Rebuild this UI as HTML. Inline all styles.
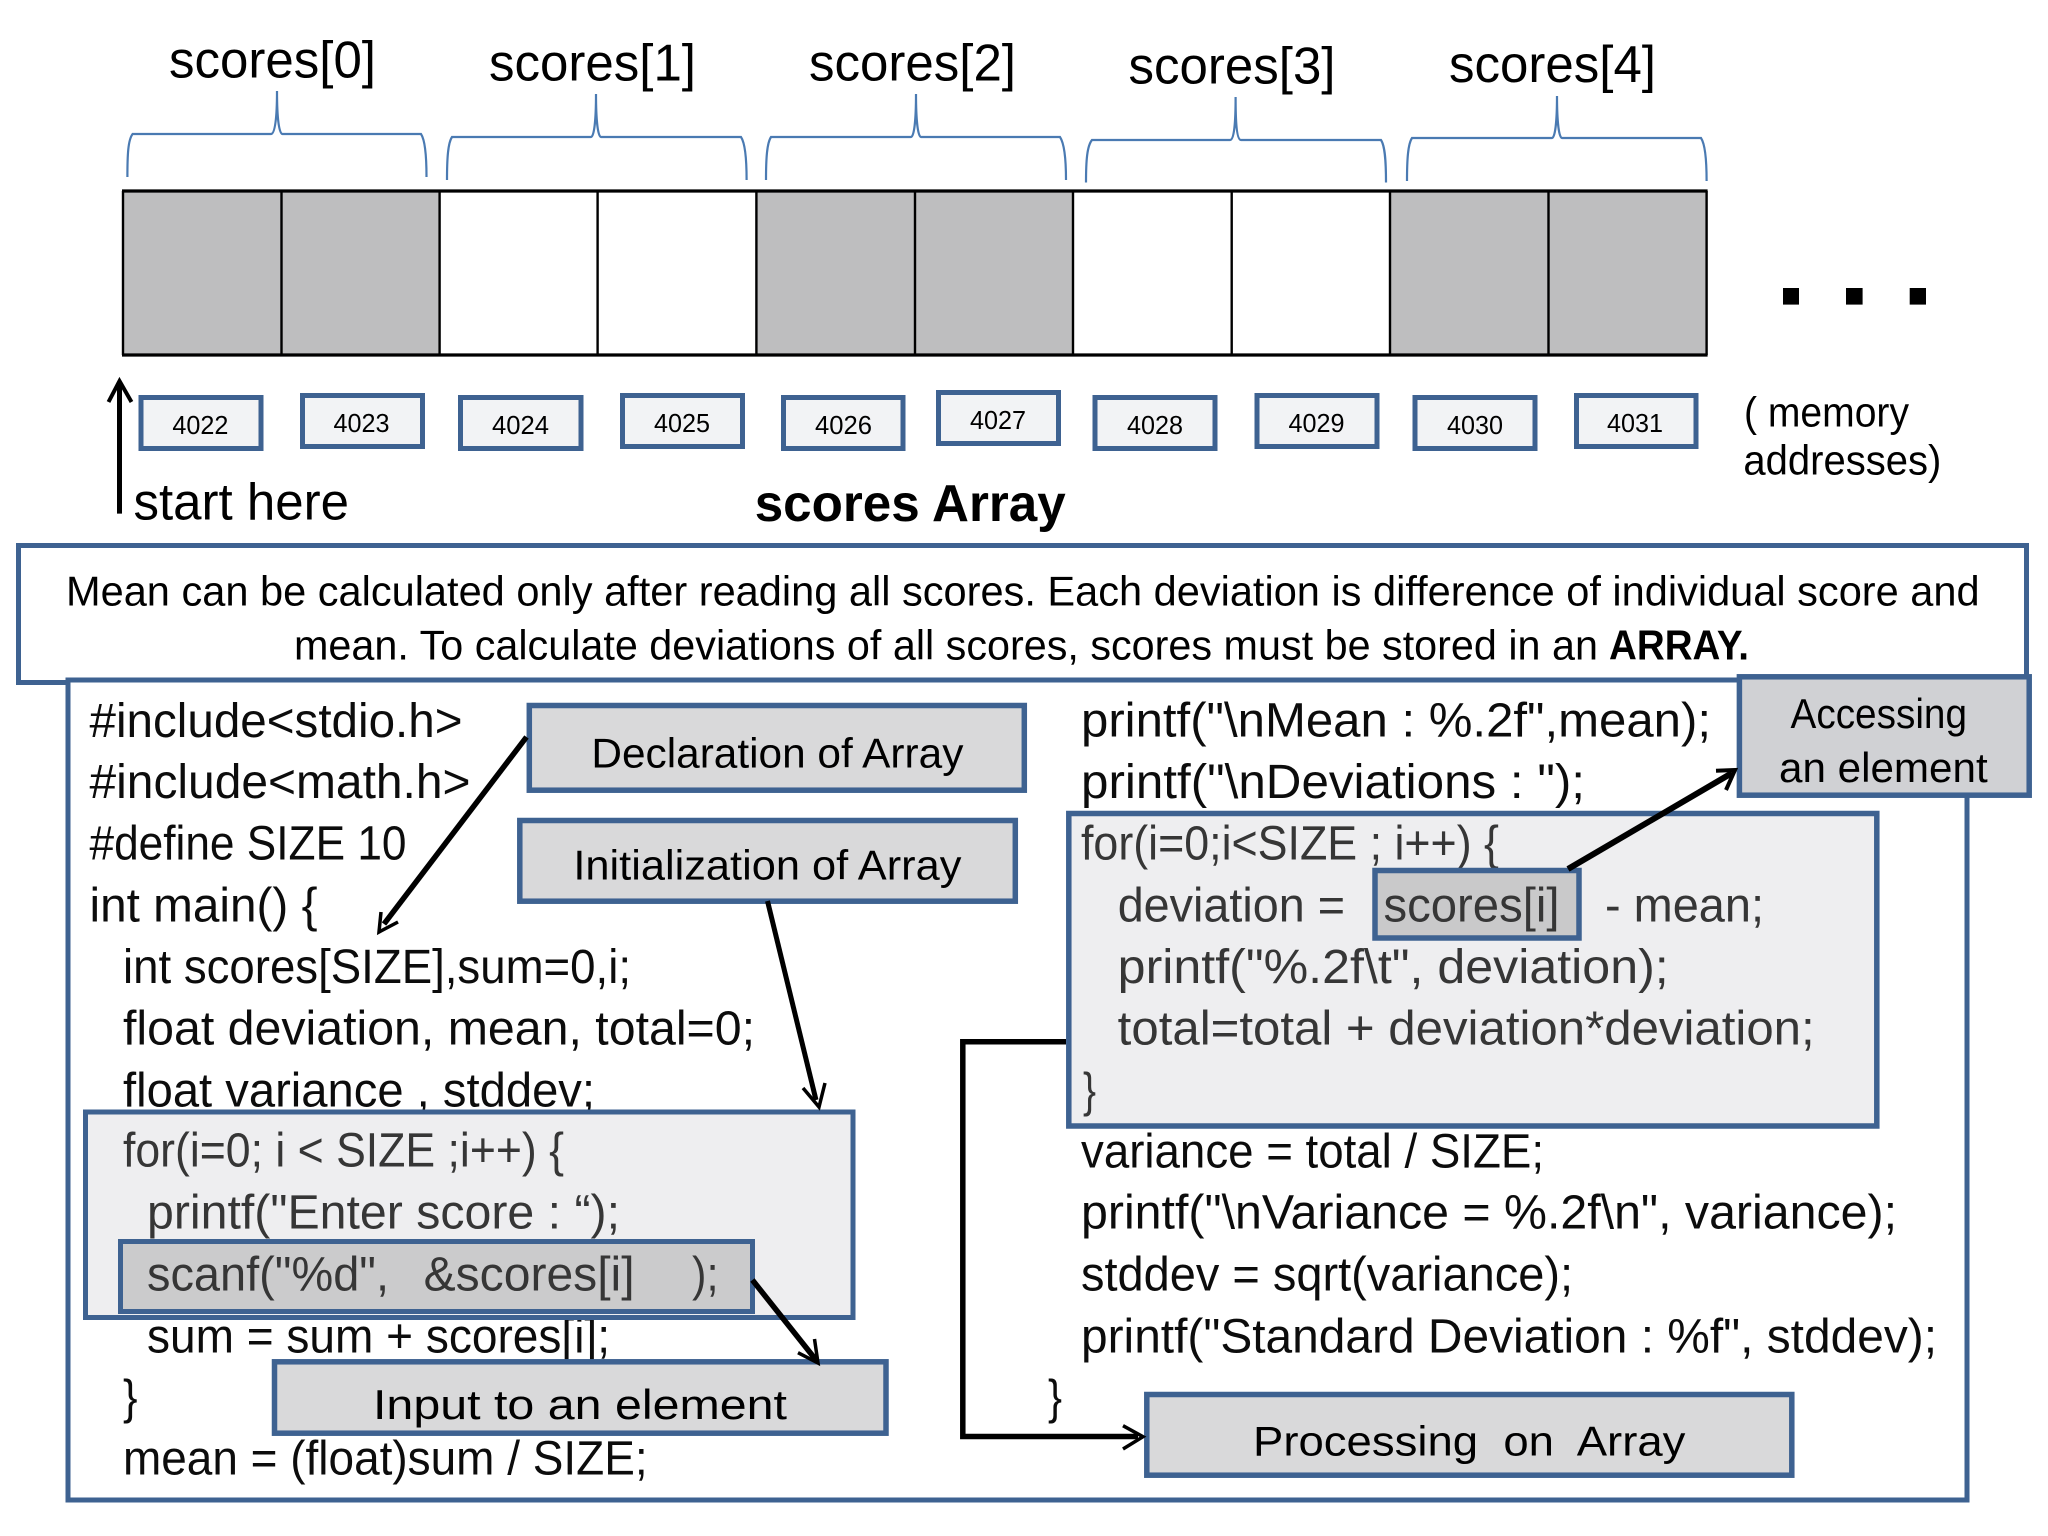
<!DOCTYPE html>
<html><head><meta charset="utf-8"><style>
html,body{margin:0;padding:0;background:#fff}
svg{display:block}
text{font-family:"Liberation Sans",sans-serif;fill:#000;white-space:pre;transform:translate(-1px,1.3px)}
.c{font-size:48px;fill:#0c0c0c}
.d{font-size:48px;fill:#363636}
.r{transform:translate(-2px,1.3px)}
.l{font-size:42px}
.m{font-size:42px}
.h{font-size:52px}
.a{font-size:26px;text-anchor:start;transform:none}
.b{fill:#f2f3f5;stroke:#3e6291;stroke-width:5}
.g{stroke:#3e6291;stroke-width:5.5}
.br{fill:none;stroke:#4a7ab2;stroke-width:2.2}
.ar{fill:none;stroke:#000;stroke-linecap:butt;stroke-linejoin:miter}
</style></head><body>
<svg xmlns="http://www.w3.org/2000/svg" width="2048" height="1536" viewBox="0 0 2048 1536">
<rect width="2048" height="1536" fill="#fff"/>

<!-- labels -->
<text class="h" x="170" y="76" textLength="207" lengthAdjust="spacingAndGlyphs">scores[0]</text>
<text class="h" x="490" y="79" textLength="207" lengthAdjust="spacingAndGlyphs">scores[1]</text>
<text class="h" x="810" y="79" textLength="207" lengthAdjust="spacingAndGlyphs">scores[2]</text>
<text class="h" x="1129.5" y="82" textLength="207" lengthAdjust="spacingAndGlyphs">scores[3]</text>
<text class="h" x="1450" y="80.5" textLength="207" lengthAdjust="spacingAndGlyphs">scores[4]</text>

<!-- braces -->
<path class="br" d="M127.4 177 C127.4 155 128 140 132.6 134 L271 134 C275 134 277 118 277 91 C277 118 279 134 282.5 134 L421 134 C425 140 426.5 155 426.5 177"/>
<path class="br" d="M447 180 C447 158 448 143 452 137 L591 137 C594 137 596 121 596 94 C596 121 598 137 601 137 L741 137 C745 143 746.6 158 746.6 180"/>
<path class="br" d="M766 180 C766 158 767 143 771 137 L911 137 C914 137 916 121 916 94 C916 121 918 137 921 137 L1060 137 C1064 143 1066 158 1066 180"/>
<path class="br" d="M1086 182.5 C1086 161 1087 146 1092 140 L1230 140 C1234 140 1235.6 124 1235.6 97 C1235.6 124 1237 140 1241 140 L1381 140 C1385 146 1386 161 1386 182.5"/>
<path class="br" d="M1407 181 C1407 159 1408 144 1412 138 L1552 138 C1555 138 1557 122 1557 96 C1557 122 1559 138 1562 138 L1701 138 C1705 144 1706.6 159 1706.6 181"/>

<!-- array -->
<g fill="#bebebf">
<rect x="123" y="191" width="316.6" height="164"/>
<rect x="756.4" y="191" width="316.6" height="164"/>
<rect x="1390" y="191" width="316.6" height="164"/>
</g>
<path d="M122 191H1707.6M122 355H1707.6" stroke="#000" stroke-width="3.2" fill="none"/>
<path d="M123 191V355M281.5 191V355M439.6 191V355M597.6 191V355M756.4 191V355M915 191V355M1073 191V355M1231.7 191V355M1390 191V355M1548.5 191V355M1706.6 191V355" stroke="#000" stroke-width="2.4" fill="none"/>

<!-- dots -->
<rect x="1783" y="288" width="16" height="16.6" fill="#000"/>
<rect x="1846" y="288" width="16.6" height="16.6" fill="#000"/>
<rect x="1909.7" y="288" width="16.3" height="16.6" fill="#000"/>

<!-- addresses -->
<rect class="b" x="141" y="397.5" width="120" height="51"/>
<rect class="b" x="302.5" y="395.5" width="120" height="51"/>
<rect class="b" x="460.5" y="397.5" width="120.5" height="51"/>
<rect class="b" x="622.5" y="395.5" width="120" height="51"/>
<rect class="b" x="783.5" y="397.5" width="119.5" height="51"/>
<rect class="b" x="938.5" y="392.5" width="120" height="51"/>
<rect class="b" x="1095" y="397.5" width="120" height="51"/>
<rect class="b" x="1257" y="395.5" width="120" height="51"/>
<rect class="b" x="1415" y="397.5" width="120" height="51"/>
<rect class="b" x="1576.5" y="395.5" width="119.5" height="51"/>
<text class="a" x="172.4" y="434" textLength="56" lengthAdjust="spacingAndGlyphs">4022</text>
<text class="a" x="333.5" y="432" textLength="56" lengthAdjust="spacingAndGlyphs">4023</text>
<text class="a" x="492" y="434" textLength="57" lengthAdjust="spacingAndGlyphs">4024</text>
<text class="a" x="654" y="432" textLength="56" lengthAdjust="spacingAndGlyphs">4025</text>
<text class="a" x="815" y="434" textLength="57" lengthAdjust="spacingAndGlyphs">4026</text>
<text class="a" x="970" y="429" textLength="56" lengthAdjust="spacingAndGlyphs">4027</text>
<text class="a" x="1127" y="434" textLength="56" lengthAdjust="spacingAndGlyphs">4028</text>
<text class="a" x="1288.5" y="432" textLength="56" lengthAdjust="spacingAndGlyphs">4029</text>
<text class="a" x="1447" y="434" textLength="56" lengthAdjust="spacingAndGlyphs">4030</text>
<text class="a" x="1607" y="432" textLength="56" lengthAdjust="spacingAndGlyphs">4031</text>

<text class="l" x="1745" y="425" textLength="165" lengthAdjust="spacingAndGlyphs">( memory</text>
<text class="l" x="1744.4" y="473" textLength="198" lengthAdjust="spacingAndGlyphs">addresses)</text>

<!-- start arrow -->
<path class="ar" stroke-width="5" d="M119.5 513.6V382"/>
<path class="ar" stroke-width="4" d="M108.5 402L119.5 381L131.5 402"/>
<text class="h" x="134.5" y="518" textLength="215.5" lengthAdjust="spacingAndGlyphs">start here</text>
<text class="h" x="755.7" y="519.6" textLength="311" lengthAdjust="spacingAndGlyphs" style="font-weight:bold">scores Array</text>

<!-- mean box -->
<rect x="18.5" y="545.5" width="2008" height="137" fill="#fff" stroke="#3e6291" stroke-width="5"/>
<text class="m" x="67" y="604" textLength="1913.6" lengthAdjust="spacingAndGlyphs">Mean can be calculated only after reading all scores. Each deviation is difference of individual score and</text>
<text class="m" x="295" y="658" textLength="1304" lengthAdjust="spacingAndGlyphs">mean. To calculate deviations of all scores, scores must be stored in an</text>
<text class="m" x="1610" y="658" textLength="140" lengthAdjust="spacingAndGlyphs" style="font-weight:bold">ARRAY.</text>

<!-- code box -->
<rect x="68" y="680" width="1899" height="820" fill="#fff" stroke="#3e6291" stroke-width="5"/>

<!-- left code -->
<text class="c" x="90.5" y="735.7" textLength="373" lengthAdjust="spacingAndGlyphs">#include&lt;stdio.h&gt;</text>
<text class="c" x="90.5" y="796.7" textLength="381" lengthAdjust="spacingAndGlyphs">#include&lt;math.h&gt;</text>
<text class="c" x="90.5" y="858" textLength="317" lengthAdjust="spacingAndGlyphs">#define SIZE 10</text>
<text class="c" x="90.5" y="920" textLength="228" lengthAdjust="spacingAndGlyphs">int main() {</text>
<text class="c" x="124" y="981.7" textLength="508" lengthAdjust="spacingAndGlyphs">int scores[SIZE],sum=0,i;</text>
<text class="c" x="124" y="1043" textLength="632" lengthAdjust="spacingAndGlyphs">float deviation, mean, total=0;</text>
<text class="c" x="124" y="1105" textLength="472" lengthAdjust="spacingAndGlyphs">float variance , stddev;</text>
<text class="c" x="148" y="1351" textLength="463" lengthAdjust="spacingAndGlyphs">sum = sum + scores[i];</text>
<text class="c" x="124" y="1412" textLength="14.5" lengthAdjust="spacingAndGlyphs">}</text>
<text class="c" x="124" y="1473" textLength="524.6" lengthAdjust="spacingAndGlyphs">mean = (float)sum / SIZE;</text>

<!-- right code -->
<text class="c r" x="1083" y="735" textLength="630" lengthAdjust="spacingAndGlyphs">printf("\nMean : %.2f",mean);</text>
<text class="c r" x="1083" y="796.7" textLength="504" lengthAdjust="spacingAndGlyphs">printf("\nDeviations : ");</text>
<text class="c r" x="1083" y="1166" textLength="463" lengthAdjust="spacingAndGlyphs">variance = total / SIZE;</text>
<text class="c r" x="1083" y="1227" textLength="816" lengthAdjust="spacingAndGlyphs">printf("\nVariance = %.2f\n", variance);</text>
<text class="c r" x="1083" y="1289" textLength="492" lengthAdjust="spacingAndGlyphs">stddev = sqrt(variance);</text>
<text class="c r" x="1083" y="1351" textLength="856" lengthAdjust="spacingAndGlyphs">printf("Standard Deviation : %f", stddev);</text>
<text class="c r" x="1050" y="1412" textLength="14" lengthAdjust="spacingAndGlyphs">}</text>

<!-- left loop -->
<rect x="85.5" y="1112" width="767.5" height="205.5" fill="#eeeef0" stroke="#3e6291" stroke-width="5"/>
<text class="d" x="124" y="1165" textLength="441" lengthAdjust="spacingAndGlyphs">for(i=0; i &lt; SIZE ;i++) {</text>
<text class="d" x="148" y="1227" textLength="473" lengthAdjust="spacingAndGlyphs">printf("Enter score : “);</text>
<rect x="120.5" y="1241.5" width="632" height="70" fill="#cbcbcc" stroke="#3e6291" stroke-width="5"/>
<text class="d" x="148" y="1289" textLength="242" lengthAdjust="spacingAndGlyphs">scanf("%d",</text>
<text class="d" x="424.6" y="1289" textLength="211" lengthAdjust="spacingAndGlyphs">&amp;scores[i]</text>
<text class="d" x="693" y="1289" textLength="26.5" lengthAdjust="spacingAndGlyphs">);</text>

<!-- right loop -->
<rect x="1068.8" y="813.5" width="808" height="312.5" fill="#eeeef0" stroke="#3e6291" stroke-width="5.5"/>
<text class="d r" x="1083" y="858" textLength="418" lengthAdjust="spacingAndGlyphs">for(i=0;i&lt;SIZE ; i++) {</text>
<text class="d r" x="1119.7" y="920" textLength="227.3" lengthAdjust="spacingAndGlyphs">deviation =</text>
<text class="d r" x="1607" y="920" textLength="159" lengthAdjust="spacingAndGlyphs">- mean;</text>
<text class="d r" x="1119.7" y="981.7" textLength="551" lengthAdjust="spacingAndGlyphs">printf("%.2f\t", deviation);</text>
<text class="d r" x="1119.7" y="1043" textLength="697" lengthAdjust="spacingAndGlyphs">total=total + deviation*deviation;</text>
<text class="d r" x="1085" y="1105" textLength="13" lengthAdjust="spacingAndGlyphs">}</text>
<rect x="1375" y="870.5" width="204" height="67.5" fill="#c9c9ca" stroke="#3e6291" stroke-width="5.5"/>
<text class="d r" x="1385.5" y="920" textLength="176" lengthAdjust="spacingAndGlyphs">scores[i]</text>

<!-- callouts -->
<rect x="529.3" y="705.5" width="495" height="84.7" fill="#d9d9da" class="g"/>
<text class="l" x="592.4" y="766" textLength="372" lengthAdjust="spacingAndGlyphs">Declaration of Array</text>
<rect x="519.8" y="820.5" width="495.5" height="80.7" fill="#d9d9da" class="g"/>
<text class="l" x="574.4" y="878" textLength="388" lengthAdjust="spacingAndGlyphs">Initialization of Array</text>
<rect x="1739.4" y="676.8" width="289.8" height="118.4" fill="#d0d1d4" class="g"/>
<text class="l" x="1791.5" y="726.7" textLength="176.5" lengthAdjust="spacingAndGlyphs">Accessing</text>
<text class="l" x="1780" y="780.7" textLength="208.7" lengthAdjust="spacingAndGlyphs">an element</text>
<rect x="274.5" y="1361.8" width="611.5" height="71.4" fill="#d9d9da" class="g"/>
<text class="l" x="374" y="1417.7" textLength="414" lengthAdjust="spacingAndGlyphs">Input to an element</text>
<rect x="1146.8" y="1394.5" width="645" height="80.7" fill="#d9d9da" class="g"/>
<text class="l" x="1254" y="1454" textLength="432.4" lengthAdjust="spacingAndGlyphs">Processing  on  Array</text>

<!-- arrows -->
<path class="ar" stroke-width="5.5" d="M526.5 737L384 924"/>
<path class="ar" stroke-width="3.5" d="M381 912L379 932L398 922"/>
<path class="ar" stroke-width="5" d="M767.5 901L816 1100"/>
<path class="ar" stroke-width="3.5" d="M803 1088L819 1107L825 1083"/>
<path class="ar" stroke-width="5.5" d="M752.4 1280L816 1360"/>
<path class="ar" stroke-width="3.5" d="M798 1352.7L818 1363L814.5 1339"/>
<path class="ar" stroke-width="6" d="M1568 869L1732 773"/>
<path class="ar" stroke-width="4" d="M1716 770.7L1735 770L1726 790"/>
<path class="ar" stroke-width="5.5" d="M1066 1041.7H962.8V1436.5H1138"/>
<path class="ar" stroke-width="3.5" d="M1123 1425.7L1143 1436.7L1123 1449"/>
</svg>
</body></html>
